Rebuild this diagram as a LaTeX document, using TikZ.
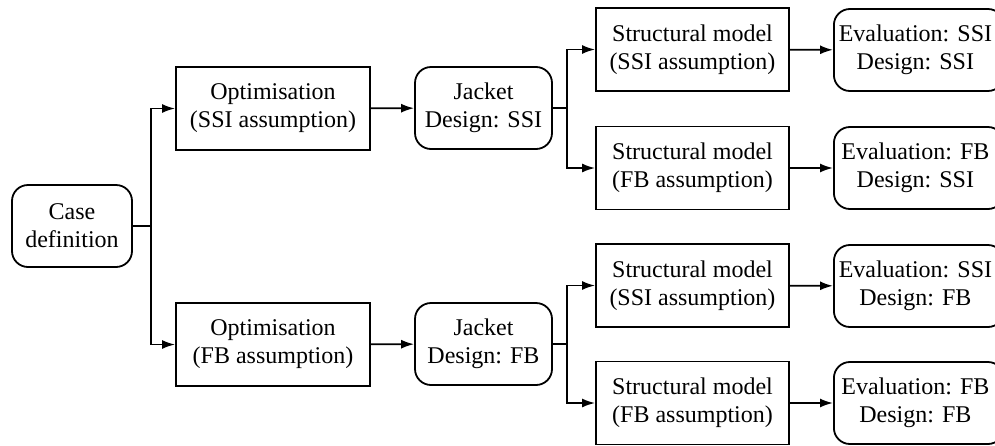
\documentclass[tikz,border=0pt]{standalone}
\usepackage{fontspec}
\setmainfont{Liberation Serif}
\usetikzlibrary{arrows.meta}
\begin{document}
\begin{tikzpicture}[x=1pt,y=-1pt,
  every node/.style={font=\rmfamily\fontsize{24}{28}\selectfont, align=center, inner sep=0pt, line width=1.8pt},
  sqbox/.style={draw, rectangle, minimum width=193pt, minimum height=83pt},
  rbox/.style={draw, rectangle, rounded corners=16pt, minimum height=82pt},
  arr/.style={line width=1.8pt, -{Latex[length=13pt,width=9pt]}},
  ln/.style={line width=1.8pt}]
\useasboundingbox (0,0) rectangle (995,445);
\clip (0,0) rectangle (995,445);
\node[rbox, minimum width=120pt] (case) at (72,226) {Case\\definition};
\node[sqbox, minimum width=194pt] (opt1) at (273,108.5) {Optimisation\\(SSI assumption)};
\node[sqbox, minimum width=194pt] (opt2) at (273,344.5) {Optimisation\\(FB assumption)};
\node[rbox, minimum width=137pt] (jk1) at (483.5,108) {Jacket\\Design: SSI};
\node[rbox, minimum width=137pt] (jk2) at (483.5,344) {Jacket\\Design: FB};
\node[sqbox] (sm1) at (692.5,49.5) {Structural model\\(SSI assumption)};
\node[sqbox] (sm2) at (692.5,168) {Structural model\\(FB assumption)};
\node[sqbox] (sm3) at (692.5,285.5) {Structural model\\(SSI assumption)};
\node[sqbox] (sm4) at (692.5,403) {Structural model\\(FB assumption)};
\node[rbox, minimum width=170pt, anchor=west] (ev1) at (833,50) {\hspace*{-7pt}Evaluation: SSI\\\hspace*{-7pt}Design: SSI};
\node[rbox, minimum width=170pt, anchor=west] (ev2) at (833,168) {\hspace*{-7pt}Evaluation: FB\\\hspace*{-7pt}Design: SSI};
\node[rbox, minimum width=170pt, anchor=west] (ev3) at (833,286) {\hspace*{-7pt}Evaluation: SSI\\\hspace*{-7pt}Design: FB};
\node[rbox, minimum width=170pt, anchor=west] (ev4) at (833,403) {\hspace*{-7pt}Evaluation: FB\\\hspace*{-7pt}Design: FB};
\draw[arr] (case.east) -- ++(18,0) |- (opt1.west);
\draw[arr] (case.east) -- ++(18,0) |- (opt2.west);
\draw[arr] (opt1) -- (jk1);
\draw[arr] (opt2) -- (jk2);
\draw[arr] (jk1.east) -- ++(14,0) |- (sm1.west);
\draw[arr] (jk1.east) -- ++(14,0) |- (sm2.west);
\draw[arr] (jk2.east) -- ++(14,0) |- (sm3.west);
\draw[arr] (jk2.east) -- ++(14,0) |- (sm4.west);
\draw[arr] (sm1) -- (ev1);
\draw[arr] (sm2) -- (ev2);
\draw[arr] (sm3) -- (ev3);
\draw[arr] (sm4) -- (ev4);
\end{tikzpicture}
\end{document}
